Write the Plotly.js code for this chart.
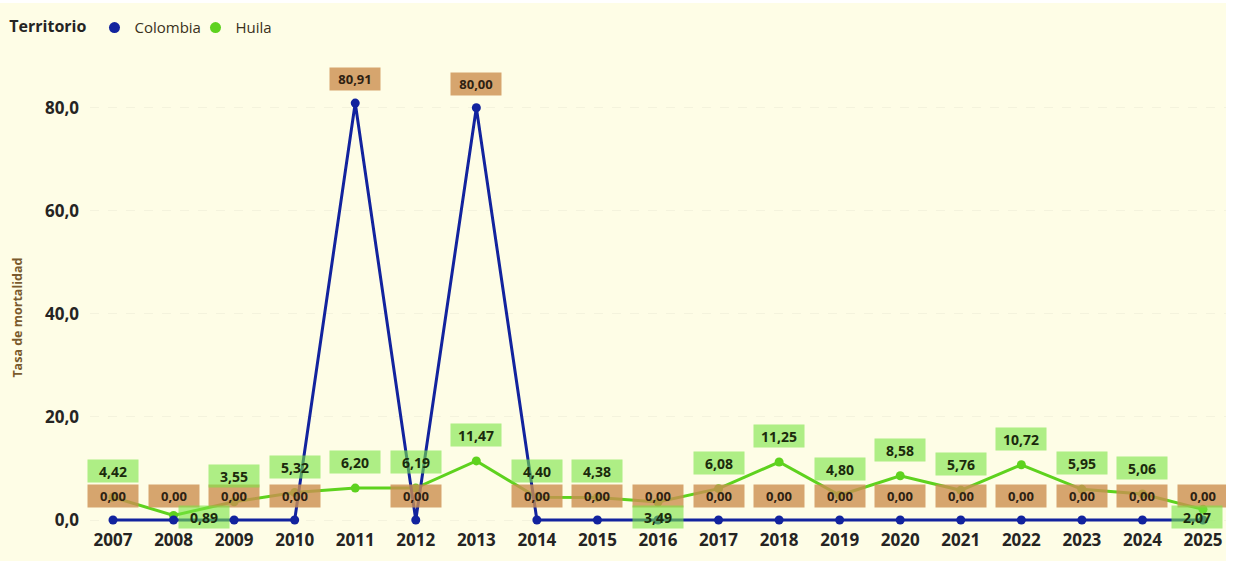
<!DOCTYPE html>
<html>
<head>
<meta charset="utf-8">
<script src="https://cdn.plot.ly/plotly-3.0.1.min.js"></script>
<style>
  html, body { margin: 0; padding: 0; background: #ffffff; }
  #chart { position: absolute; left: 0; top: 3px; width: 1226px; height: 558px; }
</style>
</head>
<body>
<div id="chart"></div>
<script>
// ---- data ----
const years = [2007, 2008, 2009, 2010, 2011, 2012, 2013, 2014, 2015, 2016, 2017, 2018, 2019, 2020, 2021, 2022, 2023, 2024, 2025];
const colombia = [0.00, 0.00, 0.00, 0.00, 80.91, 0.00, 80.00, 0.00, 0.00, 0.00, 0.00, 0.00, 0.00, 0.00, 0.00, 0.00, 0.00, 0.00, 0.00];
const huila = [4.42, 0.89, 3.55, 5.32, 6.20, 6.19, 11.47, 4.40, 4.38, 3.49, 6.08, 11.25, 4.80, 8.58, 5.76, 10.72, 5.95, 5.06, 2.07];
const seriesNames = ['Colombia', 'Huila'];
const legendTitle = 'Territorio';
const yTitle = 'Tasa de mortalidad';
const yTicks = [0, 20, 40, 60, 80];

// ---- style ----
const BG = '#FEFDE6';
const BLUE = '#12239E';
const GREEN = '#5ED21E';
const FONT = 'Open Sans, Noto Sans, sans-serif';
const belowShiftX = { 2008: 30, 2016: 0, 2025: -6 }; // label placement tweaks

const fmt = v => v.toFixed(2).replace('.', ',');

const traces = [
  { x: years, y: huila, type: 'scatter', mode: 'lines+markers', name: seriesNames[1], showlegend: false,
    line: { color: GREEN, width: 3 }, marker: { color: GREEN, size: 9 }, hoverinfo: 'skip' },
  { x: years, y: colombia, type: 'scatter', mode: 'lines+markers', name: seriesNames[0], showlegend: false,
    line: { color: BLUE, width: 3 }, marker: { color: BLUE, size: 9 }, hoverinfo: 'skip' },
  // legend entries
  { x: [null], y: [null], type: 'scatter', mode: 'markers', name: seriesNames[0], marker: { color: BLUE, size: 11 } },
  { x: [null], y: [null], type: 'scatter', mode: 'markers', name: seriesNames[1], marker: { color: GREEN, size: 11 } }
];

const annotations = [];
years.forEach((yr, i) => {
  annotations.push({
    x: yr, y: colombia[i], xref: 'x', yref: 'y', text: '<b>' + fmt(colombia[i]) + '</b>',
    showarrow: false, yshift: 24, width: 48, height: 20,
    bgcolor: 'rgba(204,143,80,0.8)', borderpad: 1,
    font: { family: FONT, size: 13, color: '#2E2112' }
  });
});
years.forEach((yr, i) => {
  const v = huila[i];
  const below = v < 3.5;
  annotations.push({
    x: yr, y: below ? 0 : v, xref: 'x', yref: 'y', text: '<b>' + fmt(v) + '</b>',
    showarrow: false, yshift: below ? 3 : 26, xshift: below ? (belowShiftX[yr] || 0) : 0,
    width: 48, height: 20,
    bgcolor: 'rgba(120,228,68,0.6)', borderpad: 1,
    font: { family: FONT, size: 14, color: '#1B2A0C' }
  });
});
annotations.push({
  xref: 'paper', yref: 'paper', x: 0, y: 0.435, xshift: -72, xanchor: 'center', yanchor: 'middle',
  text: '<b>' + yTitle + '</b>', textangle: -90, showarrow: false,
  font: { family: FONT, size: 12.5, color: '#7A5A2C' }
});

const layout = {
  width: 1226, height: 558,
  paper_bgcolor: BG, plot_bgcolor: BG,
  margin: { l: 90, r: 0, t: 34, b: 33 },
  separators: ',.',
  showlegend: true,
  legend: {
    orientation: 'h', xref: 'container', yref: 'container', x: 0.006, y: 0.985, xanchor: 'left', yanchor: 'top',
    title: { text: '<b>' + legendTitle + '</b>', font: { family: FONT, size: 16, color: '#252423' } },
    font: { family: FONT, size: 15, color: '#3A3020' }, itemwidth: 30, traceorder: 'normal',
    entrywidth: 56, entrywidthmode: 'pixels',
    bgcolor: 'rgba(0,0,0,0)'
  },
  xaxis: {
    type: 'linear', range: [2006.62, 2025.38], tickvals: years, ticktext: years.map(String),
    showgrid: false, zeroline: false, showline: false, ticks: '',
    tickfont: { family: FONT, size: 17, color: '#252423', weight: 'bold' }
  },
  yaxis: {
    range: [-1.55, 92.3], tickvals: yTicks, tickformat: '.1f', zeroline: false,
    showgrid: true, gridcolor: 'rgba(0,0,0,0.04)', griddash: 'dash', ticks: '', showline: false,
    tickfont: { family: FONT, size: 17, color: '#252423', weight: 'bold' }, ticklabelstandoff: 10
  },
  annotations: annotations
};

Plotly.newPlot('chart', traces, layout, { staticPlot: true, displayModeBar: false });
</script>
</body>
</html>
